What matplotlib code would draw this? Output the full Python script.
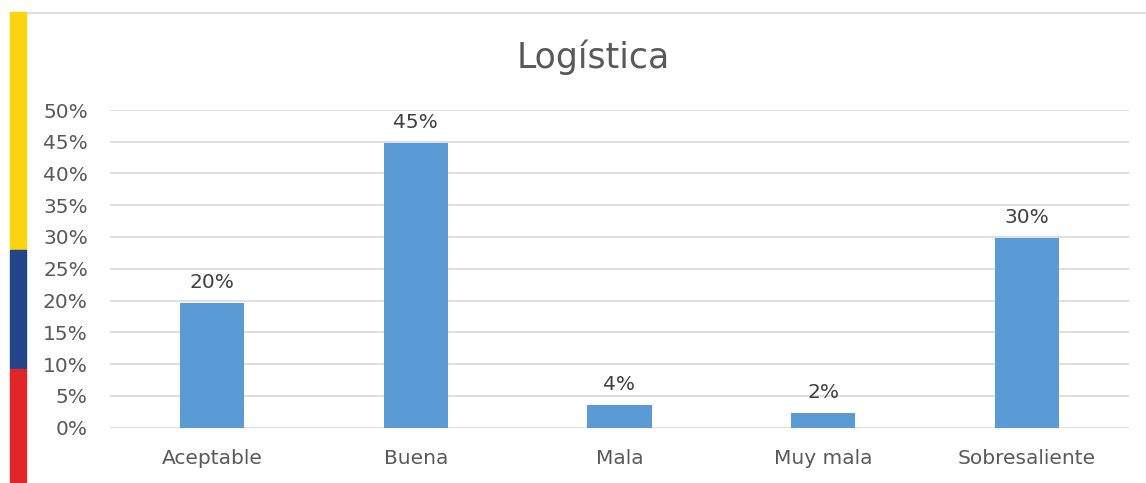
import matplotlib.pyplot as plt
from matplotlib.patches import Rectangle
from matplotlib.lines import Line2D

# Data
categories = ['Aceptable', 'Buena', 'Mala', 'Muy mala', 'Sobresaliente']
values = [19.6, 44.8, 3.5, 2.3, 29.9]
labels = ['20%', '45%', '4%', '2%', '30%']
yticks = [0, 5, 10, 15, 20, 25, 30, 35, 40, 45, 50]

W, H = 1146, 483
text_color = '#595959'
bar_color = '#5B9BD5'

plt.rcParams['font.family'] = ['DejaVu Sans']

fig = plt.figure(figsize=(W / 100, H / 100), dpi=100)
ax = fig.add_axes([110 / W, 1 - 427.5 / H, (1129 - 110) / W, (427.5 - 110) / H])

x = range(len(categories))
bars = ax.bar(x, values, width=0.315, color=bar_color, zorder=3)

for b, lab in zip(bars, labels):
    ax.annotate(lab, (b.get_x() + b.get_width() / 2, b.get_height()),
                xytext=(0, 8), textcoords='offset points',
                ha='center', va='bottom', fontsize=14.5, color='#404040')

ax.set_xlim(-0.5, len(categories) - 0.5)
ax.set_ylim(0, 50)
ax.set_yticks(yticks)
ax.set_yticklabels([f'{t}%' for t in yticks])
ax.set_xticks(list(x))
ax.set_xticklabels(categories)
ax.tick_params(axis='both', length=0, labelsize=14.5, colors=text_color)
ax.tick_params(axis='x', pad=15.5)
ax.tick_params(axis='y', pad=16)
ax.grid(axis='y', color='#D9D9D9', linewidth=1.2, zorder=0)
for s in ax.spines.values():
    s.set_visible(False)

fig.text(593 / W, 1 - 57 / H, 'Logística', ha='center', va='center',
         fontsize=25, color=text_color)

# flag stripe on the left and thin border on top
fig.patches.append(Rectangle((10 / W, 1 - 250 / H), 16 / W, 238 / H,
                             transform=fig.transFigure, color='#F9D40F', zorder=5))
fig.patches.append(Rectangle((10 / W, 1 - 369 / H), 16 / W, 119 / H,
                             transform=fig.transFigure, color='#21448B', zorder=5))
fig.patches.append(Rectangle((10 / W, 1 - 483 / H), 16 / W, 114 / H,
                             transform=fig.transFigure, color='#E1262A', zorder=5))
fig.lines.append(Line2D([26 / W, 1], [1 - 12.5 / H, 1 - 12.5 / H],
                        transform=fig.transFigure, color='#D9D9D9', linewidth=1.2))

fig.savefig('out.png', dpi=100)
